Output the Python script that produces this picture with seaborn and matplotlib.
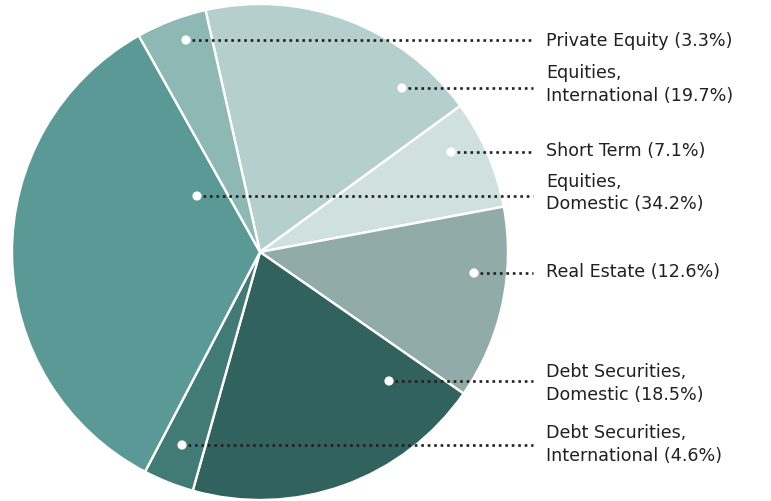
import matplotlib
matplotlib.use("Agg")
import matplotlib.pyplot as plt
import seaborn as sns

# Slice order clockwise from the top (as drawn in the reference)
categories = ["Equities, International", "Short Term", "Real Estate",
              "Debt Securities, Domestic", "Debt Securities, International",
              "Equities, Domestic", "Private Equity"]
slice_values = [18.5, 7.1, 12.6, 19.7, 3.3, 34.2, 4.6]
label_texts = ["Equities,\nInternational (19.7%)", "Short Term (7.1%)",
               "Real Estate (12.6%)", "Debt Securities,\nDomestic (18.5%)",
               "Debt Securities,\nInternational (4.6%)",
               "Equities,\nDomestic (34.2%)", "Private Equity (3.3%)"]
colors = ["#b4cfcd", "#cfe0df", "#91aba9", "#31625e", "#427a76", "#5a9995", "#8db8b4"]

# annotation layout (pixel coordinates, y from top)
dot_xy = [(402, 89), (451, 153), (474, 274), (389, 382), (182, 446), (197, 197), (186, 41)]
text_y = [84.5, 151, 272, 383.5, 444.5, 193, 41]

W, H = 771, 502
sns.set_theme(style="white")
plt.rcParams["font.family"] = ["DejaVu Sans"]

fig = plt.figure(figsize=(W / 100, H / 100), dpi=100)
ax = fig.add_axes([0, 0, 1, 1])
palette = sns.color_palette(colors)
ax.pie(slice_values, colors=palette, startangle=102.7, counterclock=False,
       center=(260, H - 253), radius=248,
       wedgeprops=dict(edgecolor="white", linewidth=1.7))
ax.set_xlim(0, W)
ax.set_ylim(0, H)
ax.set_aspect("equal")
ax.axis("off")

for (dx, dy), ty, txt in zip(dot_xy, text_y, label_texts):
    ax.plot([dx + 6, 533], [H - dy, H - dy], color="#231f20", lw=1.9,
            linestyle=(0, (1, 1.45)), zorder=5)
    ax.scatter([dx], [H - dy], s=44, color="white", edgecolors="none", zorder=6)
    ax.text(546, H - ty, txt, ha="left", va="center", fontsize=12.6,
            color="#231f20", linespacing=1.3, zorder=6)

fig.savefig("out.png", dpi=100, facecolor="white")
